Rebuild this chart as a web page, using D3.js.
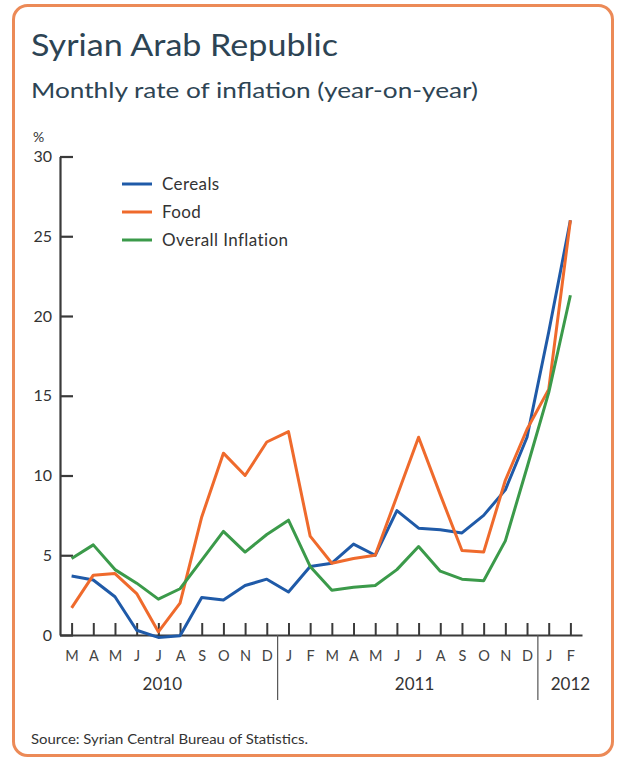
<!DOCTYPE html>
<html><head><meta charset="utf-8">
<script src="https://cdn.jsdelivr.net/npm/d3@7"></script>
<style>body{margin:0;background:#fff}svg{display:block}</style>
</head><body>
<svg id="c" width="618" height="760"></svg>
<script>
// ---- data ----
const monthKeys = ["2010-03","2010-04","2010-05","2010-06","2010-07","2010-08","2010-09","2010-10","2010-11","2010-12",
  "2011-01","2011-02","2011-03","2011-04","2011-05","2011-06","2011-07","2011-08","2011-09","2011-10","2011-11","2011-12",
  "2012-01","2012-02"];
const monthLabels = ["M","A","M","J","J","A","S","O","N","D","J","F","M","A","M","J","J","A","S","O","N","D","J","F"];
const cereals = [3.7,3.45,2.4,0.3,-0.15,-0.05,2.35,2.2,3.1,3.5,2.7,4.3,4.5,5.7,5.0,7.8,6.7,6.6,6.4,7.5,9.1,12.4,19.0,26.0];
const food    = [1.7,3.75,3.85,2.6,0.2,2.0,7.4,11.4,10.0,12.1,12.75,6.2,4.5,4.8,5.0,8.7,12.4,8.8,5.3,5.2,9.7,12.9,15.4,26.0];
const overall = [4.8,5.65,4.1,3.25,2.25,2.9,4.7,6.5,5.2,6.3,7.2,4.3,2.8,3.0,3.1,4.1,5.55,4.0,3.5,3.4,5.9,10.5,15.2,21.3];
const seriesNames = ["Cereals","Food","Overall Inflation"];
const seriesColors = ["#1f5aa8","#ef6a2c","#3b9a4a"];
const yTicks = [0,5,10,15,20,25,30];
const yearLabels = ["2010","2011","2012"];
const yearAnchor = ["2010-07","2011-07","2012-02"];
const yearBreaks = ["2010-12","2011-12"];
const titleText = "Syrian Arab Republic";
const subtitleText = "Monthly rate of inflation (year-on-year)";
const sourceText = "Source: Syrian Central Bureau of Statistics.";

// ---- drawing ----
const svg = d3.select("#c");
const FONT = "Lato, 'Open Sans', sans-serif";
const axisCol = "#3a3a3a";

svg.append("rect").attr("x",13.5).attr("y",5.5).attr("width",599).attr("height",750)
  .attr("rx",14).attr("fill","#fff").attr("stroke","#ec8a57").attr("stroke-width",3);

svg.append("text").attr("x",31).attr("y",56).text(titleText)
  .attr("font-family",FONT).attr("font-size",30).attr("fill","#2d4454")
  .attr("textLength",307).attr("lengthAdjust","spacingAndGlyphs");
svg.append("text").attr("x",31).attr("y",98).text(subtitleText)
  .attr("font-family",FONT).attr("font-size",22).attr("fill","#2d4454")
  .attr("textLength",447).attr("lengthAdjust","spacingAndGlyphs");
svg.append("text").attr("x",31).attr("y",744).text(sourceText)
  .attr("font-family",FONT).attr("font-size",13.5).attr("fill","#333")
  .attr("textLength",277).attr("lengthAdjust","spacingAndGlyphs");

const x = d3.scalePoint().domain(monthKeys).range([60,582]).padding(0.535);
const y = d3.scaleLinear().domain([0,30]).range([635,156.5]);

// y axis
const gy = svg.append("g").attr("transform","translate(60,0)")
  .call(d3.axisLeft(y).tickValues(yTicks).tickSizeInner(-13).tickSizeOuter(0).tickPadding(8));
gy.select(".domain").attr("stroke",axisCol).attr("stroke-width",2.2);
gy.selectAll(".tick line").attr("stroke",axisCol).attr("stroke-width",2.2);
gy.selectAll(".tick text").attr("font-family",FONT).attr("font-size",16).attr("fill","#333");

svg.append("text").attr("x",33).attr("y",142).text("%")
  .attr("font-family",FONT).attr("font-size",14).attr("fill","#333");

// x axis
const gx = svg.append("g").attr("transform","translate(0,635)")
  .call(d3.axisBottom(x).tickFormat((d,i)=>monthLabels[i]).tickSizeInner(-12).tickSizeOuter(0).tickPadding(16));
gx.select(".domain").attr("stroke",axisCol).attr("stroke-width",2.2);
gx.selectAll(".tick line").attr("stroke",axisCol).attr("stroke-width",2);
gx.selectAll(".tick text").attr("font-family",FONT).attr("font-size",14.5).attr("fill","#444");

// year separators
yearBreaks.forEach(k=>{
  const xx = x(k) + x.step()/2;
  svg.append("line").attr("x1",xx).attr("x2",xx).attr("y1",635).attr("y2",700)
    .attr("stroke","#555").attr("stroke-width",1.2);
});
const yearDx = [4,-4,0];
yearLabels.forEach((t,i)=>{
  svg.append("text").attr("x",x(yearAnchor[i])+yearDx[i]).attr("y",690).attr("text-anchor","middle")
    .text(t).attr("font-family",FONT).attr("font-size",17).attr("fill","#333");
});

// lines
const allSeries = [cereals, food, overall];
const line = d3.line().x((d,i)=>x(monthKeys[i])).y(d=>y(d));
allSeries.forEach((s,i)=>{
  svg.append("path").datum(s).attr("d",line).attr("fill","none")
    .attr("stroke",seriesColors[i]).attr("stroke-width",3).attr("stroke-linejoin","round");
});

// legend
const legY = [184,212,240];
seriesNames.forEach((n,i)=>{
  svg.append("line").attr("x1",122).attr("x2",152).attr("y1",legY[i]).attr("y2",legY[i])
    .attr("stroke",seriesColors[i]).attr("stroke-width",3);
  svg.append("text").attr("x",162).attr("y",legY[i]).attr("dy","0.36em").text(n)
    .attr("font-family",FONT).attr("font-size",17).attr("letter-spacing","0.4px").attr("fill","#333");
});
</script>
</body></html>
